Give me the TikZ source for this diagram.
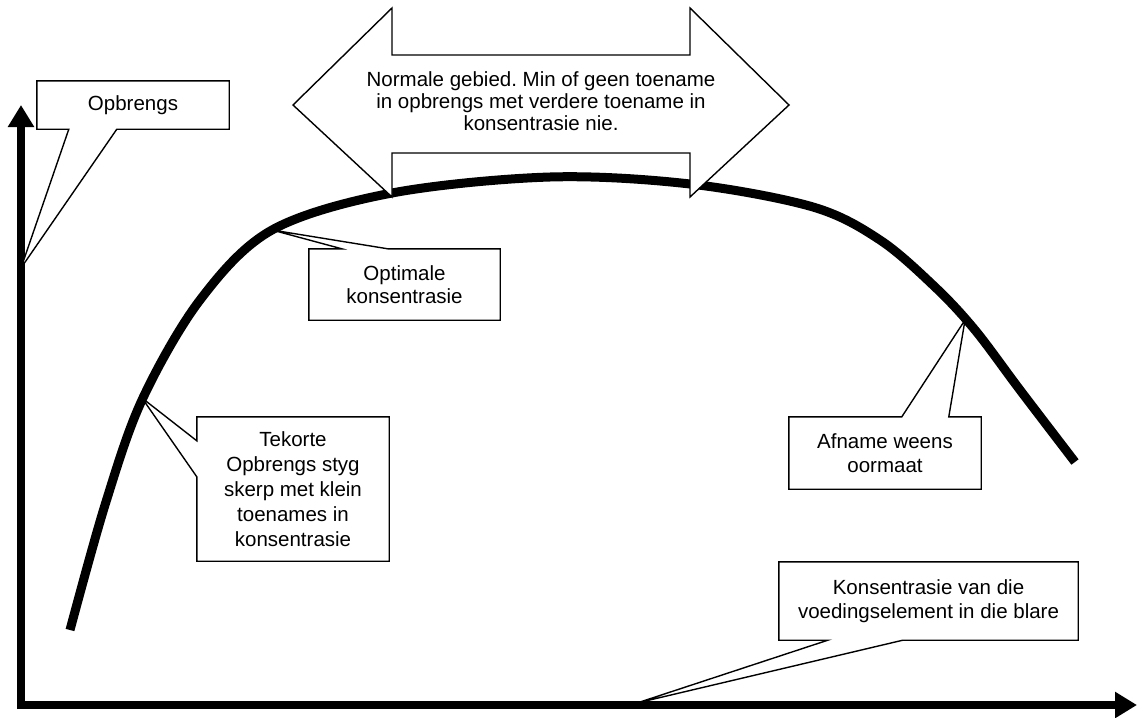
\documentclass[tikz,border=0pt]{standalone}
\usepackage{fontspec}
\setmainfont{Liberation Sans}
\usetikzlibrary{arrows.meta,calc,backgrounds}
\frenchspacing

\begin{document}
\begin{tikzpicture}[x=1pt, y=-1pt,
	txt/.style={font=\fontsize{20.5}{23.5}\selectfont, align=center, inner sep=0pt},
	rand/.style={draw=black, line width=1.4pt, fill=white, line join=miter},
	as/.style={line width=8pt, -{Triangle[length=22pt,width=25pt]}}]
	\useasboundingbox (0,0) rectangle (1145,717);

	% teks
	\node[txt, minimum width=192pt, minimum height=48pt] (opbrengs) at (133,105) {Opbrengs};
	\node[txt, minimum width=191pt, minimum height=71pt] (optimaal) at (404.5,284.5) {Optimale\\konsentrasie};
	\node[txt, font=\fontsize{20.5}{25}\selectfont, minimum width=192pt, minimum height=144pt] (tekort) at (293,489)
		{Tekorte\\Opbrengs styg\\skerp met klein\\toenames in\\konsentrasie};
	\node[txt, minimum width=192pt, minimum height=72pt] (afname) at (885,453) {Afname weens\\oormaat};
	\node[txt, minimum width=299pt, minimum height=78pt] (konsentrasie) at (928.5,601)
		{Konsentrasie van die\\voedingselement in die blare};
	\node[txt, font=\fontsize{20.5}{22}\selectfont] (gebied) at (541,101)
		{Normale gebied. Min of geen toename\\in opbrengs met verdere toename in\\konsentrasie nie.};

	\coordinate (pOpbrengs) at (21,268);
	\coordinate (pOptimaal) at (272,230);
	\coordinate (pTekort) at (142,398);
	\coordinate (pAfname) at (965,320);
	\coordinate (pKons) at (637,703);

	\begin{pgfonlayer}{background}
	% asse
	\draw[as] (21,709) -- (21,105);
	\draw[as] (17,705) -- (1137,705);

	% kromme
	\draw[line width=9pt] plot[smooth, tension=0.55] coordinates
		{(70,630) (105,505) (142,400) (200,300) (272,230) (392,193) (550,177)
		 (690,184) (813,207) (880,240) (935,287) (975,330) (1020,390) (1075,462)};

	% pyl
	\draw[rand] (293,105) -- (392,8) -- (392,55) -- (690,55) -- (690,8) -- (789,105)
		-- (690,197) -- (690,153) -- (392,153) -- (392,197) -- cycle;

	% kommentaar
	\draw[rand] (opbrengs.north west) -- (opbrengs.north east) -- (opbrengs.south east)
		-- ($(opbrengs.south west)+(80,0)$) -- (pOpbrengs) -- ($(opbrengs.south west)+(32,0)$)
		-- (opbrengs.south west) -- cycle;
	\draw[rand] (optimaal.north west) -- ($(optimaal.north west)+(33,0)$) -- (pOptimaal)
		-- ($(optimaal.north west)+(79,0)$) -- (optimaal.north east) -- (optimaal.south east)
		-- (optimaal.south west) -- cycle;
	\draw[rand] (tekort.north west) -- (tekort.north east) -- (tekort.south east)
		-- (tekort.south west) -- ($(tekort.north west)+(0,60)$) -- (pTekort)
		-- ($(tekort.north west)+(0,24)$) -- cycle;
	\draw[rand] (afname.north west) -- ($(afname.north west)+(113,0)$) -- (pAfname)
		-- ($(afname.north west)+(160,0)$) -- (afname.north east) -- (afname.south east)
		-- (afname.south west) -- cycle;
	\draw[rand] (konsentrasie.north west) -- (konsentrasie.north east) -- (konsentrasie.south east)
		-- ($(konsentrasie.south west)+(124,0)$) -- (pKons) -- ($(konsentrasie.south west)+(49,0)$)
		-- (konsentrasie.south west) -- cycle;
	\end{pgfonlayer}
\end{tikzpicture}
\end{document}
